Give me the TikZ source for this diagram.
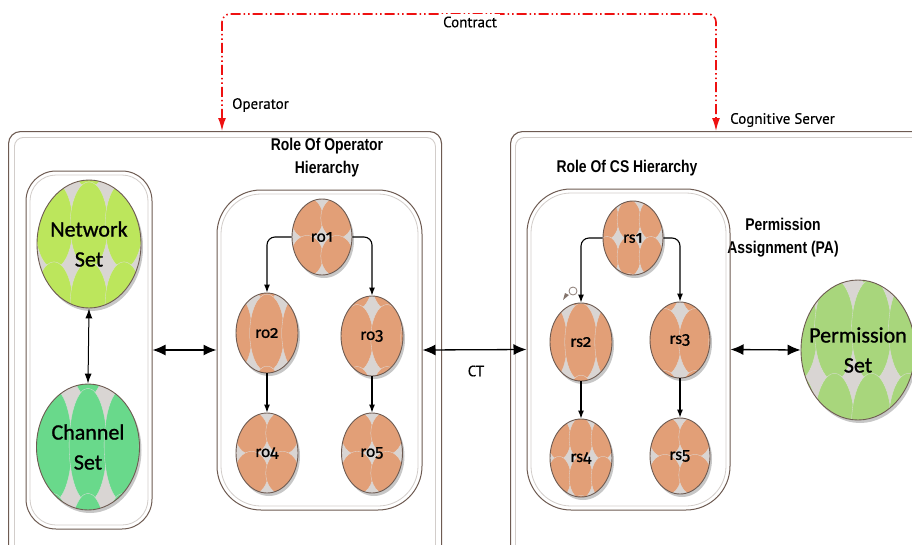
\documentclass[tikz,border=0pt]{standalone}
\usepackage{fontspec}
\setmainfont{Carlito}
\newfontfamily\ballfont[FakeBold=1.0]{Carlito}
\newfontfamily\oldnum[Numbers=OldStyle,FakeBold=0.6]{Fira Sans}
\newfontfamily\notefont[FakeBold=0.3]{PT Sans}
\newfontfamily\headfont[FakeStretch=0.82]{Liberation Sans}
\usetikzlibrary{arrows.meta,calc,shapes.geometric,shadows}

\definecolor{rolefill}{HTML}{E29F77}
\definecolor{gapgrey}{HTML}{D9D5D3}
\definecolor{netfill}{HTML}{BCE65C}
\definecolor{chanfill}{HTML}{69D98B}
\definecolor{permfill}{HTML}{A8D67C}
\definecolor{rimbrown}{HTML}{6E5B52}
\definecolor{framegrey}{HTML}{D2CDCA}
\definecolor{contractred}{HTML}{EE1111}

\tikzset{
  frame/.style={rectangle, draw=rimbrown, line width=1.1pt, rounded corners=12pt, inner sep=0pt},
  frameinner/.style={rectangle, draw=framegrey, line width=0.9pt, rounded corners=9pt, inner sep=0pt},
  holder/.style={rectangle, draw=rimbrown, line width=1pt, rounded corners=#1, inner sep=0pt},
  holderinner/.style={rectangle, draw=framegrey, line width=0.8pt, rounded corners=#1, inner sep=0pt},
  % ellipse filled with a lattice of overlapping coloured lobes over a grey ground
  tiles/.style n args={5}{path picture={
      \fill[gapgrey] (path picture bounding box.south west) rectangle (path picture bounding box.north east);
      \foreach \i in {-4,...,4}{
        \foreach \j in {-3,...,3}{
          \filldraw[fill=#1, draw=white!75!gray, line width=0.3pt]
            ([shift={({#4+\i*#2},{#5+\j*#3})}]path picture bounding box.center)
            ellipse [x radius={#2*0.54}, y radius={#3*0.54}];
        }
      }
  }},
  ball/.style={ellipse, draw=rimbrown, line width=0.9pt, inner sep=0pt,
    drop shadow={shadow xshift=2pt, shadow yshift=-3pt, opacity=0.22, fill=black}},
  balltext/.style={font=\ballfont\fontsize{17}{19}\selectfont, text=black},
  bigtext/.style={font=\ballfont\fontsize{22}{30}\selectfont, text=black, align=center},
  headtext/.style={font=\headfont\bfseries\fontsize{17}{23}\selectfont, align=center},
  notetext/.style={font=\notefont\fontsize{15}{18}\selectfont},
  flow/.style={draw=black, line width=1.1pt, rounded corners=8pt, -{Latex[length=8pt,width=6pt]}},
  bothway/.style={draw=black, line width=1.3pt, {Latex[length=13pt,width=11pt]}-{Latex[length=13pt,width=11pt]}},
  smallboth/.style={draw=black, line width=1pt, {Latex[length=10pt,width=7pt]}-{Latex[length=10pt,width=7pt]}},
  contract/.style={draw=contractred, line width=1.6pt, rounded corners=8pt,
    dash pattern=on 10pt off 3pt on 1.5pt off 3pt on 1.5pt off 3pt,
    {Latex[length=13pt,width=8pt]}-{Latex[length=13pt,width=8pt]}},
}

\begin{document}
\begin{tikzpicture}[x=1pt,y=-1pt]
\clip (0,0) rectangle (912,544);
\fill[white] (0,0) rectangle (912,544);

% operator and cognitive server frames
\node[frame, minimum width=433, minimum height=460, anchor=north west] (opframe) at (8,131) {};
\node[frameinner, minimum width=421, minimum height=450, anchor=north west] (opframein) at (14,137) {};
\node[frame, minimum width=440, minimum height=460, anchor=north west] (srvframe) at (510,131) {};
\node[frameinner, minimum width=430, minimum height=450, anchor=north west] (srvframein) at (515,137) {};

% contract between the two parties
\coordinate (opentry) at ([xshift=214pt]opframe.north west);
\coordinate (srventry) at ([xshift=206pt]srvframe.north west);
\draw[contract] (opentry) -- ++(0,-117) -| (srventry);
\node[notetext, fill=white, inner sep=3pt] (contractlbl) at (470,22) {Contract};
\node[notetext, anchor=west, inner sep=0pt] (oplbl) at (232,105) {Operator};
\node[notetext, anchor=west, inner sep=0pt] (srvlbl) at (730,120) {Cognitive Server};

% headings
\node[headtext] (rolehead) at (327,158) {Role Of Operator\\Hierarchy};
\node[headtext] (cshead) at (627,168) {Role Of CS Hierarchy};
\node[headtext] (pahead) at (783,238) {Permission\\Assignment (PA)};

% containers
\node[holder=30pt, minimum width=126, minimum height=358] (setbox) at (89,350) {};
\node[holderinner=26pt, minimum width=118, minimum height=350] (setboxin) at (89,350) {};
\node[holder=44pt, minimum width=205, minimum height=320] (rolebox) at (319.5,350) {};
\node[holderinner=40pt, minimum width=197, minimum height=312] (roleboxin) at (319.5,350) {};
\node[holder=44pt, minimum width=203, minimum height=321] (csbox) at (628.5,349.5) {};
\node[holderinner=40pt, minimum width=195, minimum height=313] (csboxin) at (628.5,349.5) {};

% sets
\node[ball, tiles={netfill}{35}{80}{0}{-19}, minimum width=104, minimum height=128,
  label={[bigtext]center:{Network\\Set}}] (net) at (89,244) {};
\node[ball, tiles={chanfill}{35}{105}{0}{-2}, minimum width=103, minimum height=126,
  label={[bigtext]center:{Channel\\Set}}] (chan) at (88,447) {};
\node[ball, tiles={permfill}{37}{94}{13.5}{-20}, minimum width=114, minimum height=140,
  label={[bigtext]center:{Permission\\Set}}] (perm) at (858,350) {};

% operator roles
\node[ball, tiles={rolefill}{30}{38}{15}{19}, minimum width=60, minimum height=76,
  label={[balltext]center:ro{\oldnum 1}}] (ro1) at (322,237) {};
\node[ball, tiles={rolefill}{32}{72}{0}{0}, minimum width=62, minimum height=80,
  label={[balltext]center:ro{\oldnum 2}}] (ro2) at (267,333) {};
\node[ball, tiles={rolefill}{30}{62}{15}{2}, minimum width=62, minimum height=80,
  label={[balltext]center:ro{\oldnum 3}}] (ro3) at (372,336) {};
\node[ball, tiles={rolefill}{31}{40}{15.5}{20}, minimum width=62, minimum height=80,
  label={[balltext]center:ro{\oldnum 4}}] (ro4) at (267,453) {};
\node[ball, tiles={rolefill}{30}{40}{15}{20}, minimum width=61, minimum height=80,
  label={[balltext]center:ro{\oldnum 5}}] (ro5) at (372,453) {};

% cognitive server roles
\node[ball, tiles={rolefill}{22}{37}{-4}{18.5}, minimum width=60, minimum height=74,
  label={[balltext]center:rs{\oldnum 1}}] (rs1) at (633,238) {};
\node[ball, tiles={rolefill}{30}{72}{0}{0}, minimum width=62, minimum height=78,
  label={[balltext]center:rs{\oldnum 2}}] (rs2) at (581,342) {};
\node[ball, tiles={rolefill}{30}{62}{15}{2}, minimum width=60, minimum height=76,
  label={[balltext]center:rs{\oldnum 3}}] (rs3) at (680,340) {};
\node[ball, tiles={rolefill}{22}{39}{0}{19.5}, minimum width=62, minimum height=78,
  label={[balltext]center:rs{\oldnum 4}}] (rs4) at (581,458) {};
\node[ball, tiles={rolefill}{30}{38}{15}{19}, minimum width=60, minimum height=76,
  label={[balltext]center:rs{\oldnum 5}}] (rs5) at (680,456) {};

% hierarchy links
\draw[flow] (ro1.west) -| (ro2.north);
\draw[flow] (ro1.east) -| (ro3.north);
\draw[flow] (ro2.south) -- (ro4.north);
\draw[flow] (ro3.south) -- (ro5.north);
\draw[flow] (rs1.west) -| (rs2.north);
\draw[flow] (rs1.east) -| (rs3.north);
\draw[flow] (rs2.south) -- (rs4.north);
\draw[flow] (rs3.south) -- (rs5.north);

% small marker beside the rs2 link
\draw[rimbrown!80, line width=0.8pt] (573,291) circle (4);
\fill[rimbrown!85] (563,300) -- (569,295) -- (565,293) -- cycle;

% associations
\draw[smallboth] (net.south) -- (chan.north);
\draw[bothway] (setbox.east) -- (rolebox.west);
\draw[bothway] (rolebox.east) -- (csbox.west);
\node[notetext] (ctlbl) at (476,371) {CT};
\draw[bothway] (csbox.east) -- (perm.west);
\end{tikzpicture}
\end{document}
